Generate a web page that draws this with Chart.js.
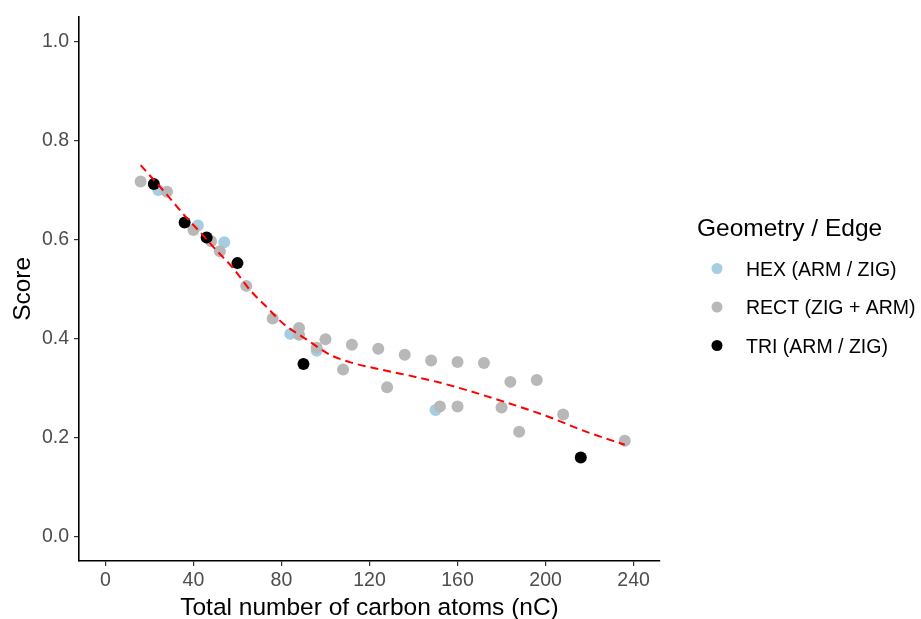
<!DOCTYPE html>
<html>
<head>
<meta charset="utf-8">
<script src="https://cdn.jsdelivr.net/npm/chart.js@4.4.0/dist/chart.umd.min.js"></script>
<style>
  body { margin: 0; background: #fff; }
  #wrap { width: 921px; height: 619px; position: relative; }
</style>
</head>
<body>
<div id="wrap"><canvas id="scoreChart"></canvas></div>
<script>
// Data
const hexX = [24, 42, 54, 84, 96, 150];
const hexY = [0.700, 0.628, 0.594, 0.409, 0.375, 0.255];

const rectX = [16, 28, 40, 48, 52, 64, 76, 88, 88, 96, 100, 108, 112, 124, 128, 136, 148, 152, 160, 160, 172, 180, 184, 188, 196, 208, 236];
const rectY = [0.717, 0.696, 0.619, 0.596, 0.576, 0.506, 0.440, 0.421, 0.407, 0.381, 0.398, 0.337, 0.387, 0.379, 0.301, 0.367, 0.355, 0.262, 0.352, 0.262, 0.350, 0.260, 0.312, 0.211, 0.316, 0.246, 0.193];

const triX = [22, 36, 46, 60, 90, 216];
const triY = [0.712, 0.634, 0.604, 0.552, 0.348, 0.159];

// loess trend (dashed red)
const smoothX = [16, 28, 36, 44, 50, 58, 66, 72, 81, 91, 102, 111, 126, 141, 155, 179, 201, 218, 236];
const smoothY = [0.750, 0.690, 0.648, 0.610, 0.580, 0.542, 0.496, 0.469, 0.429, 0.399, 0.367, 0.352, 0.336, 0.322, 0.307, 0.275, 0.242, 0.212, 0.185];

const xTicks = [0, 40, 80, 120, 160, 200, 240];
const yTicks = [0, 0.2, 0.4, 0.6, 0.8, 1.0];

const legendTitle = 'Geometry / Edge';
const legendLabels = ['HEX (ARM / ZIG)', 'RECT (ZIG + ARM)', 'TRI (ARM / ZIG)'];
const groupColors = ['#a6cee3', '#b8b8b8', '#000000'];

const FONT = "'Liberation Sans', Arial, sans-serif";

const toPoints = (xs, ys) => xs.map((x, i) => ({ x: x, y: ys[i] }));

// Draw the legend to the right of the plot
const legendPlugin = {
    id: 'sideLegend',
    afterDraw(chart) {
        const c = chart.ctx;
        c.save();
        c.fillStyle = '#000';
        c.textBaseline = 'alphabetic';
        c.font = `24.5px ${FONT}`;
        c.fillText(legendTitle, 697, 236);
        c.font = `19.5px ${FONT}`;
        legendLabels.forEach((label, i) => {
            const cy = 268.5 + i * 38.5;
            c.beginPath();
            c.fillStyle = groupColors[i];
            c.arc(717, cy, 5.5, 0, Math.PI * 2);
            c.fill();
            c.fillStyle = '#000';
            c.fillText(label, 746, cy + 7);
        });
        c.restore();
    }
};

const axisStyle = {
    grid: { drawOnChartArea: false, drawTicks: true, tickLength: 5, color: '#333', lineWidth: 1.2 },
    border: { display: true, color: '#000', width: 1.6 }
};

const ctx = document.getElementById('scoreChart').getContext('2d');
const chart = new Chart(ctx, {
    type: 'scatter',
    data: {
        datasets: [
            {
                type: 'line',
                label: 'trend',
                data: toPoints(smoothX, smoothY),
                borderColor: '#ff0000',
                borderWidth: 2,
                borderDash: [8, 5],
                pointRadius: 0,
                cubicInterpolationMode: 'monotone',
                fill: false,
                order: 0
            },
            {
                label: legendLabels[2],
                data: toPoints(triX, triY),
                backgroundColor: groupColors[2],
                borderWidth: 0,
                pointRadius: 6,
                order: 1
            },
            {
                label: legendLabels[1],
                data: toPoints(rectX, rectY),
                backgroundColor: groupColors[1],
                borderWidth: 0,
                pointRadius: 6,
                order: 2
            },
            {
                label: legendLabels[0],
                data: toPoints(hexX, hexY),
                backgroundColor: groupColors[0],
                borderWidth: 0,
                pointRadius: 6,
                order: 3
            }
        ]
    },
    options: {
        responsive: true,
        maintainAspectRatio: false,
        animation: false,
        layout: { padding: { top: 14, right: 261, left: 0, bottom: -4 } },
        plugins: {
            legend: { display: false },
            tooltip: { enabled: false }
        },
        scales: {
            x: {
                type: 'linear',
                min: -12,
                max: 252,
                afterBuildTicks: (s) => { s.ticks = xTicks.map(v => ({ value: v })); },
                afterFit: (s) => { s.height = 62; },
                ticks: { color: '#4d4d4d', font: { family: FONT, size: 19.5 }, padding: 3, maxRotation: 0 },
                title: { display: true, text: 'Total number of carbon atoms (nC)', color: '#000', font: { family: FONT, size: 24.5 }, padding: 0 },
                ...axisStyle
            },
            y: {
                type: 'linear',
                min: -0.05,
                max: 1.05,
                afterBuildTicks: (s) => { s.ticks = yTicks.map(v => ({ value: v })); },
                afterFit: (s) => { s.width = 79; },
                ticks: { color: '#4d4d4d', font: { family: FONT, size: 19.5 }, padding: 5, callback: (v) => Number(v).toFixed(1) },
                title: { display: true, text: 'Score', color: '#000', font: { family: FONT, size: 24.5 }, padding: { top: 9, bottom: 0 } },
                ...axisStyle
            }
        }
    },
    plugins: [legendPlugin]
});
</script>
</body>
</html>
